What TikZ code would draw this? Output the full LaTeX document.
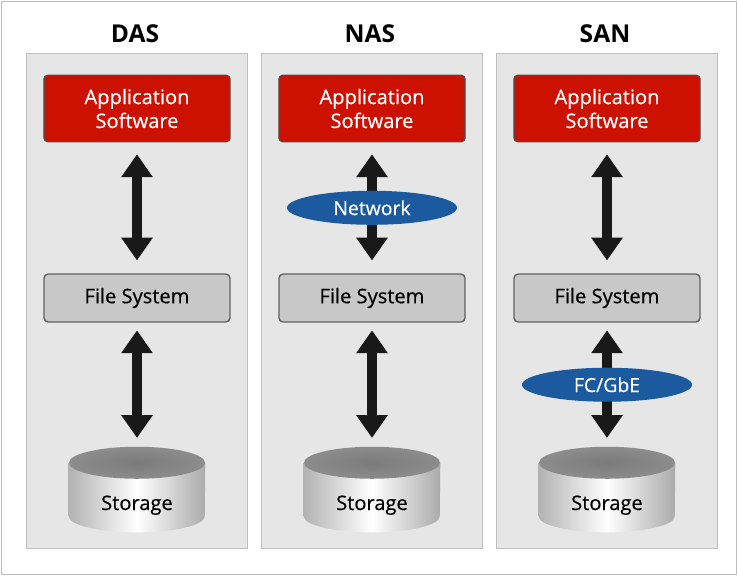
\documentclass[tikz,border=0pt]{standalone}
\usepackage{fontspec}
\setmainfont{Open Sans}
\newfontfamily\medfont[FakeBold=0.45]{Open Sans}
\usetikzlibrary{arrows.meta,positioning,shapes.geometric}

\definecolor{panelgray}{HTML}{E6E6E6}
\definecolor{panelline}{HTML}{BDBDBD}
\definecolor{appred}{HTML}{CC1100}
\definecolor{fsgray}{HTML}{C8C8C8}
\definecolor{netblue}{HTML}{1B5A9E}

\tikzset{
  panel/.style={draw=panelline, fill=panelgray, line width=0.7pt, minimum width=5.5cm, minimum height=12.35cm},
  ttl/.style={font=\bfseries\fontsize{17.5}{19}\selectfont},
  appbox/.style={draw=black!70, fill=appred, text=white, rounded corners=2.5pt, line width=0.8pt,
    minimum width=4.65cm, minimum height=1.66cm, align=center, font=\medfont\fontsize{14.3}{17}\selectfont},
  fsbox/.style={draw=black!62, fill=fsgray, rounded corners=3pt, line width=1pt,
    minimum width=4.65cm, minimum height=1.2cm, font=\medfont\fontsize{14.3}{17}\selectfont},
  cylbox/.style={minimum width=3.4cm, minimum height=2.125cm, inner sep=0pt},
  lbl/.style={font=\medfont\fontsize{14.3}{17}\selectfont},
  dblarrow/.style={draw=black!90, line width=0.25cm,
    {Triangle[width=0.75cm,length=0.57cm]}-{Triangle[width=0.75cm,length=0.57cm]}},
  netell/.style={ellipse, fill=netblue, text=white, inner sep=0pt,
    minimum width=4.25cm, minimum height=0.85cm, font=\medfont\fontsize{13.8}{16}\selectfont}
}

\begin{document}
\begin{tikzpicture}[x=0.025cm, y=-0.025cm]
  \useasboundingbox (0,0) rectangle (738,576);
  \draw[panelline, line width=0.7pt] (1.5,1.5) rectangle (736.5,574.5);

  \foreach \i/\x/\name in {1/137/DAS, 2/372/NAS, 3/607/SAN} {
    \node[ttl] (ttl\i) at (\x-2,34) {\name};
    \node[panel] (pnl\i) at (\x,301) {};
    \node[appbox] (app\i) at (\x,108.5) {Application\\Software};
    \node[fsbox, below=3.275cm of app\i] (fs\i) {File System};
    \node[cylbox, below=3.1cm of fs\i] (cyl\i) {};
    % cylinder body and lid
    \shade[left color=black!30, right color=black!33, middle color=white]
      ([yshift=-0.4cm]cyl\i.north west) -- ([yshift=0.4cm]cyl\i.south west)
      arc[start angle=180, end angle=360, x radius=1.7cm, y radius=0.4cm]
      -- ([yshift=-0.4cm]cyl\i.north east) -- cycle;
    \shade[inner color=black!52, outer color=black!45]
      ([yshift=-0.4cm]cyl\i.north) ellipse[x radius=1.7cm, y radius=0.4cm];
    \node[lbl] (sto\i) at ([yshift=-0.39cm]cyl\i.center) {Storage};
    \draw[dblarrow, shorten <=0.3cm, shorten >=0.32cm] (app\i) -- (fs\i);
    \draw[dblarrow, shorten <=0.19cm, shorten >=0.22cm] (fs\i) -- (cyl\i);
  }

  \path (app2.south) -- node[netell] (net) {Network} (fs2.north);
  \path (fs3.south) -- node[netell] (fcg) {FC/GbE} (cyl3.north);
\end{tikzpicture}
\end{document}
